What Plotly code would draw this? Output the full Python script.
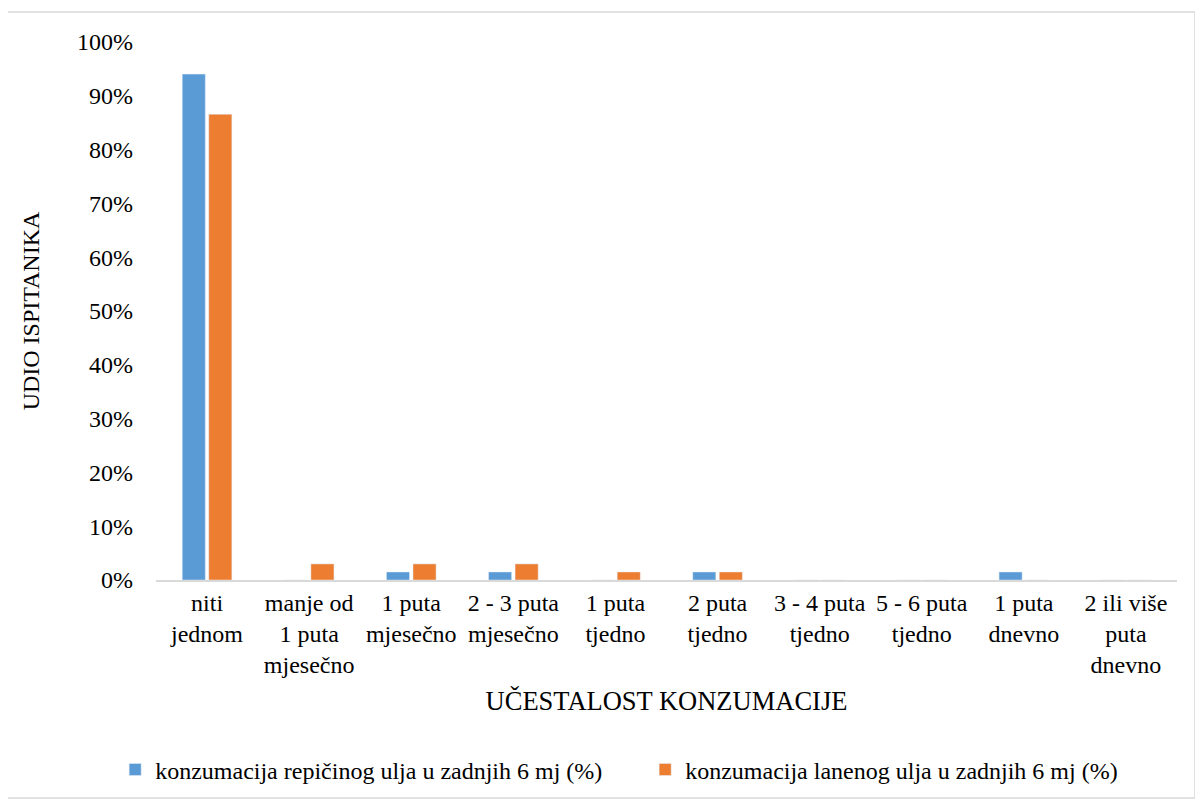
import plotly.graph_objects as go

categories = ["niti<br>jednom", "manje od<br>1 puta<br>mjesečno", "1 puta<br>mjesečno",
              "2 - 3 puta<br>mjesečno", "1 puta<br>tjedno", "2 puta<br>tjedno",
              "3 - 4 puta<br>tjedno", "5 - 6 puta<br>tjedno", "1 puta<br>dnevno",
              "2 ili više<br>puta<br>dnevno"]
repicino = [94.03, 0, 1.49, 1.49, 0, 1.49, 0, 0, 1.49, 0]
laneno = [86.57, 2.99, 2.99, 2.99, 1.49, 1.49, 0, 0, 0, 0]
series_names = ["konzumacija repičinog ulja u zadnjih 6 mj (%)",
                "konzumacija lanenog ulja u zadnjih 6 mj (%)"]
colors = ["#5B9BD5", "#ED7D31"]

FONT = "Liberation Serif"
FS = 24

fig = go.Figure()
fig.add_trace(go.Bar(x=categories, y=repicino, name=series_names[0], marker_color=colors[0]))
fig.add_trace(go.Bar(x=categories, y=laneno, name=series_names[1], marker_color=colors[1]))

fig.update_layout(
    width=1195, height=793,
    margin=dict(l=148, r=26, t=34, b=221, autoexpand=False),
    paper_bgcolor="white", plot_bgcolor="white",
    font=dict(family=FONT, size=FS, color="#000000"),
    barmode="group", bargap=0.48, bargroupgap=0.13,
    legend=dict(orientation="h", x=-0.040, xanchor="left", y=-0.353, yanchor="middle",
                font=dict(family=FONT, size=FS), entrywidth=485, itemwidth=30,
                bgcolor="rgba(0,0,0,0)"),
    showlegend=True,
    shapes=[dict(type="rect", xref="paper", yref="paper", x0=-0.146, x1=1.0176,
                 y0=-0.405, y1=1.0558, line=dict(color="#d9d9d9", width=1.5))],
)
fig.update_xaxes(showline=True, linecolor="#d9d9d9", linewidth=1.5, showgrid=False,
                 ticks="", tickfont=dict(family=FONT, size=FS),
                 title=dict(text="UČESTALOST KONZUMACIJE", font=dict(family=FONT, size=26.5), standoff=14))
fig.update_yaxes(range=[0, 100], dtick=10, ticksuffix="%", showgrid=False, showline=False,
                 zeroline=False, ticks="", tickfont=dict(family=FONT, size=FS), ticklabelstandoff=22,
                 title=dict(text="UDIO ISPITANIKA", font=dict(family=FONT, size=FS), standoff=30))

fig.write_html("out.html")
